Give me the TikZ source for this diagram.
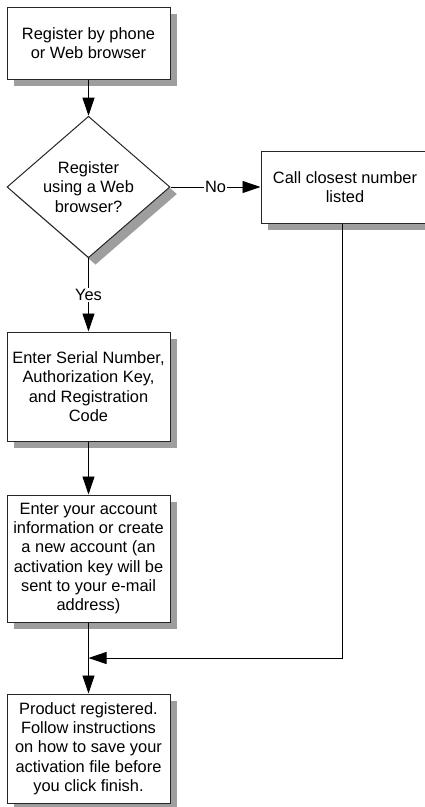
\documentclass[tikz,border=0pt]{standalone}
\usepackage{fontspec}
\setmainfont{Liberation Sans}
\usepackage{tikz}
\usetikzlibrary{shapes,arrows.meta,positioning,shadows}

\begin{document}
\begin{tikzpicture}[x=1pt,y=-1pt,
    box/.style={draw=black!85,line width=1pt,fill=white,align=center,
      minimum width=163pt,inner sep=0pt,font=\fontsize{16.4}{19.3}\selectfont,
      drop shadow={shadow xshift=7pt,shadow yshift=-7pt,fill=black!38,opacity=1}},
    decision/.style={box,diamond,minimum width=163pt,minimum height=126pt},
    arr/.style={line width=0.9pt,-{Triangle[length=18pt,width=12pt]}},
    lbl/.style={fill=white,inner sep=1.5pt,font=\fontsize{16.4}{19.3}\selectfont}]
  \useasboundingbox (0,0) rectangle (424,807);
  \node[box,minimum height=72pt] (phone) at (88.5,43) {Register by phone\\or Web browser};
  \node[decision] (web) at (88.5,187) {Register\\using a Web\\browser?};
  \node[box,minimum height=72pt,minimum width=168pt] (call) at (345,187) {Call closest number\\listed};
  \node[box,minimum height=109pt] (serial) at (88.5,386.5) {Enter Serial Number,\\Authorization Key,\\and Registration\\Code};
  \node[box,minimum height=127pt] (account) at (88.5,558.5) {Enter your account\\information or create\\a new account (an\\activation key will be\\sent to your e-mail\\address)};
  \node[box,minimum height=109pt] (done) at (88.5,748.5) {Product registered.\\Follow instructions\\on how to save your\\activation file before\\you click finish.};
  \coordinate (merge) at (88.5,658);

  \draw[arr] (phone) -- (web);
  \draw[arr] (web.east) -- node[lbl] {No} (call.west);
  \draw[arr] (web.south) -- node[lbl] {Yes} (serial.north);
  \draw[arr] (serial) -- (account);
  \draw[arr] (account) -- (done);
  \draw[arr] ([xshift=-3pt]call.south) |- (merge);
\end{tikzpicture}
\end{document}
